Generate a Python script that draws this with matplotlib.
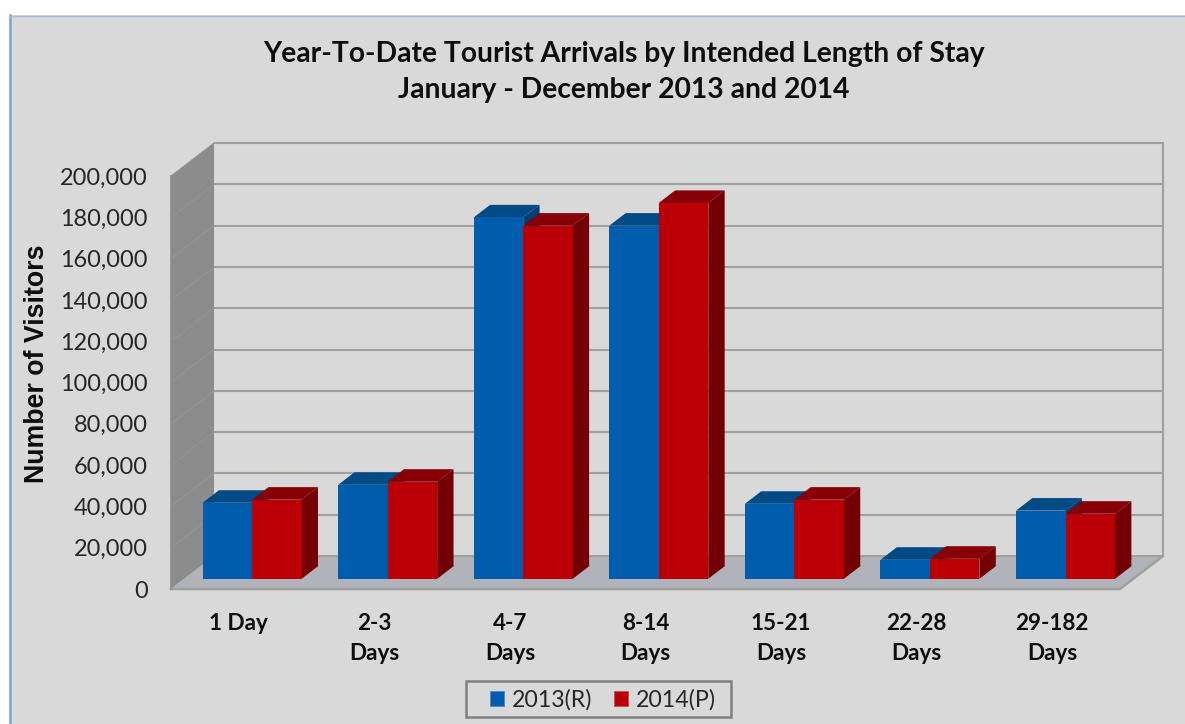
import matplotlib
matplotlib.use("Agg")
import matplotlib.pyplot as plt
from matplotlib.patches import Polygon, Rectangle, Patch
from matplotlib.lines import Line2D

categories = ["1 Day", "2-3\nDays", "4-7\nDays", "8-14\nDays", "15-21\nDays", "22-28\nDays", "29-182\nDays"]
series_2013 = [36800, 45500, 175000, 171000, 36300, 9200, 33000]
series_2014 = [38300, 47000, 171000, 182000, 38300, 9700, 31500]
y_ticks = list(range(0, 200001, 20000))
title_text = "Year-To-Date Tourist Arrivals by Intended Length of Stay\nJanuary - December 2013 and 2014"
ylabel_text = "Number of Visitors"
legend_labels = ["2013(R)", "2014(P)"]

W, H = 1185, 724
BG = "#D9D9D9"
GRID = "#A0A0A0"
fig = plt.figure(figsize=(W / 100, H / 100), dpi=100, facecolor="white")

# panel
fig.add_artist(Rectangle((9 / W, 0), (W - 9) / W, (H - 15) / H, transform=fig.transFigure,
                         facecolor=BG, edgecolor="none", zorder=-5))
fig.add_artist(Line2D([10 / W, 10 / W], [0, (H - 15) / H], color="#7FA6D6", lw=1.8, zorder=-4))
fig.add_artist(Line2D([9 / W, 1], [(H - 15.5) / H] * 2, color="#A9BBD0", lw=1.0, zorder=-4))

# axes = front plane of the 3-D box
L, R, T, B = 171, 1120, 176, 589
ax = fig.add_axes([L / W, (H - B) / H, (R - L) / W, (B - T) / H])
ax.set_xlim(0, len(categories))
ax.set_ylim(0, 200000)
ax.patch.set_alpha(0)
for s in ax.spines.values():
    s.set_visible(False)

DX = 43 / ((R - L) / len(categories))   # category units per unit depth
DY = 33 / ((B - T) / 200000)            # value units per unit depth


def P(x, v, d):
    return (x + d * DX, v + d * DY)


def poly(pts, color, z, edge="none", lw=0):
    ax.add_patch(Polygon([P(*p) for p in pts], closed=True, facecolor=color, edgecolor=edge,
                         lw=lw, zorder=z, clip_on=False))


n = len(categories)
ymax = y_ticks[-1]
# side wall and floor
poly([(0, 0, 0), (0, 0, 1), (0, ymax, 1), (0, ymax, 0)], "#8C8C8C", 1)
poly([(0, 0, 0), (n, 0, 0), (n, 0, 1), (0, 0, 1)], "#B1B3BA", 1)
# gridlines
for v in y_ticks:
    xs, ys = zip(P(0, v, 1), P(n, v, 1))
    ax.plot(xs, ys, color=GRID, lw=1.5, zorder=2, clip_on=False, solid_capstyle="butt")
    if v:
        xs, ys = zip(P(0, v, 0), P(0, v, 1))
        ax.plot(xs, ys, color="#959595", lw=0.8, zorder=2, clip_on=False)
xs, ys = zip(P(n, 0, 1), P(n, ymax, 1))
ax.plot(xs, ys, color=GRID, lw=1.5, zorder=2, clip_on=False)
xs, ys = zip(P(0, 0, 0), P(n, 0, 0), P(n, 0, 1))
ax.plot(xs, ys, color=GRID, lw=1.8, zorder=2, clip_on=False)
xs, ys = zip(P(0, 0, 0), P(0, ymax, 0))
ax.plot(xs, ys, color="#8C8C8C", lw=1.2, zorder=2, clip_on=False)

# bars
D0, D1 = 0.31, 0.69
BW = 49.5 / ((R - L) / n)
styles = [("#005DAD", "#004A85", "#003F73"), ("#BA0006", "#870005", "#730004")]
z = 3
for i in range(n):
    c = i + 0.5
    for (vals, x0, (front, top, side)) in ((series_2013, c - BW, styles[0]), (series_2014, c, styles[1])):
        v = vals[i]
        x1 = x0 + BW
        poly([(x0, v, D0), (x1, v, D0), (x1, v, D1), (x0, v, D1)], top, z)
        poly([(x1, 0, D0), (x1, 0, D1), (x1, v, D1), (x1, v, D0)], side, z + 1)
        poly([(x0, 0, D0), (x1, 0, D0), (x1, v, D0), (x0, v, D0)], front, z + 2)
        z += 3

# ticks
ax.set_yticks(y_ticks)
ax.set_yticklabels([f"{v:,}" for v in y_ticks], family="Lato", fontsize=16.9, color="#262626")
ax.set_xticks([i + 0.5 for i in range(n)])
ax.set_xticklabels(categories, family="Lato", fontweight="bold", fontsize=16.2, color="#0D0D0D",
                   linespacing=1.5, va="top")
ax.tick_params(axis="both", length=0)
ax.tick_params(axis="y", pad=16.8)
ax.tick_params(axis="x", pad=17.5)

fig.text(624 / W, 1 - 72 / H, title_text, family="Lato", fontweight="bold", fontsize=20.35,
         color="#0D0D0D", ha="center", va="center", linespacing=1.5)
fig.text(37 / W, 1 - 364 / H, ylabel_text, family="Liberation Sans", fontweight="bold", fontsize=19.3,
         color="#0D0D0D", rotation=90, ha="center", va="center")

# legend
fig.add_artist(Rectangle((466 / W, 1 - 717 / H), 265 / W, 36 / H, transform=fig.transFigure,
                         facecolor=BG, edgecolor="#7F7F7F", lw=1.8, zorder=5))
handles = [Patch(facecolor=styles[0][0], edgecolor="#4F88C0", lw=0.6),
           Patch(facecolor=styles[1][0], edgecolor="#C04F50", lw=0.6)]
leg = fig.legend(handles, legend_labels, loc="center", bbox_to_anchor=(603 / W, 1 - 700 / H), ncol=2,
                 frameon=False, handlelength=0.6, handleheight=0.6, handletextpad=0.33, columnspacing=0.95,
                 borderpad=0, borderaxespad=0, prop={"family": "Lato", "size": 16.7})
leg.set_zorder(6)
for t in leg.get_texts():
    t.set_color("#262626")

fig.savefig("out.png", dpi=100, facecolor="white")
